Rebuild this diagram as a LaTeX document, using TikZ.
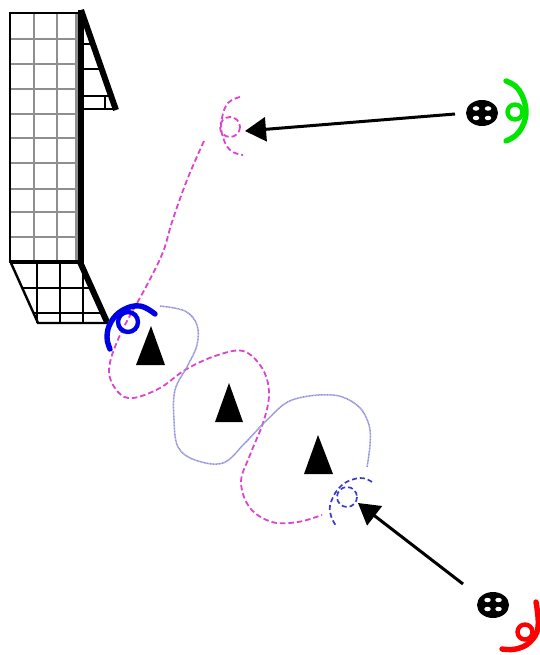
\documentclass[tikz,border=0pt]{standalone}
\usetikzlibrary{arrows.meta,shapes.geometric}
\definecolor{pathpink}{HTML}{DD44CC}
\definecolor{pathblue}{HTML}{3A3ACC}
\definecolor{lilac}{HTML}{9090DD}
\definecolor{gridgrey}{HTML}{8F8F8F}
\tikzset{
  px/.style={x=1pt,y=-1pt},
  heavy/.style={draw=black,line width=6pt},
  greygrid/.style={draw=gridgrey,line width=2.6pt},
  blackgrid/.style={draw=black,line width=2.4pt},
  pinkdash/.style={draw=pathpink,line width=1.8pt,dash pattern=on 5.5pt off 3pt},
  bluedash/.style={draw=pathblue,line width=1.7pt,dash pattern=on 5pt off 3pt},
  lilacdot/.style={draw=lilac,line width=1.5pt,dash pattern=on 1pt off .5pt},
  bigarrow/.style={draw=black,line width=3pt,-{Triangle[length=21pt,width=24pt]}},
  head/.style={ellipse,fill=black,minimum width=32pt,minimum height=26pt,inner sep=0pt},
  eye/.style={ellipse,fill=white,minimum width=6.5pt,minimum height=4.5pt,inner sep=0pt},
  ear/.style={line width=5.4pt,line cap=round},
  earloop/.style={line width=4.4pt}
}
\begin{document}
\begin{tikzpicture}[px]
\useasboundingbox (0,0) rectangle (540,655);
\clip (0,0) rectangle (540,655);
\fill[white] (0,0) rectangle (540,655);
% upper wall grid
\foreach \y in {39,64,89,114,138,163,189,212,237}
  \draw[greygrid] (10,\y) -- (78,\y);
\foreach \x in {34,57}
  \draw[greygrid] (\x,13) -- (\x,262);
\draw[greygrid] (76.5,13) -- (76.5,262);
\draw[black,line width=2.8pt] (78,262) -- (10,262) -- (10,13) -- (78,13);
\draw[heavy] (81,10) -- (81,263);
% upper wedge
\foreach \y/\xe in {44/90,69/99,96/108,109/113}
  \draw[blackgrid] (81,\y) -- (\xe,\y);
\draw[blackgrid] (105,96) -- (105,109);
\draw[heavy] (81,10) -- (116,110);
% lower wedge
\foreach \x in {37,60,83}
  \draw[blackgrid] (\x,263) -- (\x,323);
\draw[blackgrid] (22,288) -- (92,288);
\draw[blackgrid] (33,313) -- (104,313);
\draw[blackgrid] (11,263) -- (38,323) -- (108,323);
\draw[heavy] (80,262) -- (107,322);
\draw[black,line width=4pt] (10,262) -- (82,262);
% paths
\draw[pinkdash] plot[smooth,tension=.6] coordinates {(204,141) (187,180) (172,222) (163,252) (147,285) (120,335) (109,370) (118,392) (133,398) (160,388) (185,370) (215,356) (243,351) (262,368) (269,392) (264,420) (250,455) (241,482) (250,508) (272,522) (298,522) (322,515)};
\draw[lilacdot] plot[smooth,tension=.6] coordinates {(160,306) (185,311) (197,325) (197,345) (188,365) (175,390) (174,420) (178,447) (195,460) (223,463) (245,443) (267,420) (292,400) (333,395) (358,406) (369,425) (370,445) (367,467)};
% markers
\fill (151,326) -- (165,365) -- (136,365) -- cycle;
\fill (229,383) -- (243,422) -- (215,422) -- cycle;
\fill (318,435) -- (333,474) -- (304,474) -- cycle;
% blue ear
\draw[blue!90!black,earloop] (128,322) circle (10);
\draw[blue!90!black,ear] plot[smooth,tension=.7] coordinates {(110,349) (107,337) (111,322) (123,310) (140,306) (155,314)};
% pink ear
\draw[pinkdash] (230,127) circle (10);
\draw[pinkdash] plot[smooth,tension=.7] coordinates {(240,97) (228,103) (222,118) (222,134) (230,150) (243,155)};
% blue dashed ear
\draw[bluedash] (347,497) circle (10);
\draw[bluedash] plot[smooth,tension=.7] coordinates {(372,482) (360,478) (342,485) (331,502) (331,516) (337,527)};
% heads
\node[head] (h1) at (482,113) {};
\foreach \dx/\dy in {-6/-4.5,6/-4.5,-6/5,6/5}
  \node[eye] at (482+\dx,113+\dy) {};
\node[head] (h2) at (493,605) {};
\foreach \dx/\dy in {-5.5/-5,5.5/-5,-5.5/4,5.5/4}
  \node[eye] at (493+\dx,605+\dy) {};
% green ear
\draw[green!90!black,earloop] (515,112) circle (7.5);
\draw[green!90!black,ear] plot[smooth,tension=.7] coordinates {(506,81) (519,90) (526,112) (519,132) (506,141)};
% red ear
\draw[red,earloop] (525,632) circle (7.5);
\draw[red,ear] plot[smooth,tension=.7] coordinates {(502,649) (516,649) (530,642) (538,627) (536,602)};
% arrows
\coordinate (t1) at (245,131);
\coordinate (s1) at (455,114);
\coordinate (t2) at (358,503);
\coordinate (s2) at (463,584);
\draw[bigarrow] (s1) -- (t1);
\draw[bigarrow] (s2) -- (t2);
\end{tikzpicture}
\end{document}
